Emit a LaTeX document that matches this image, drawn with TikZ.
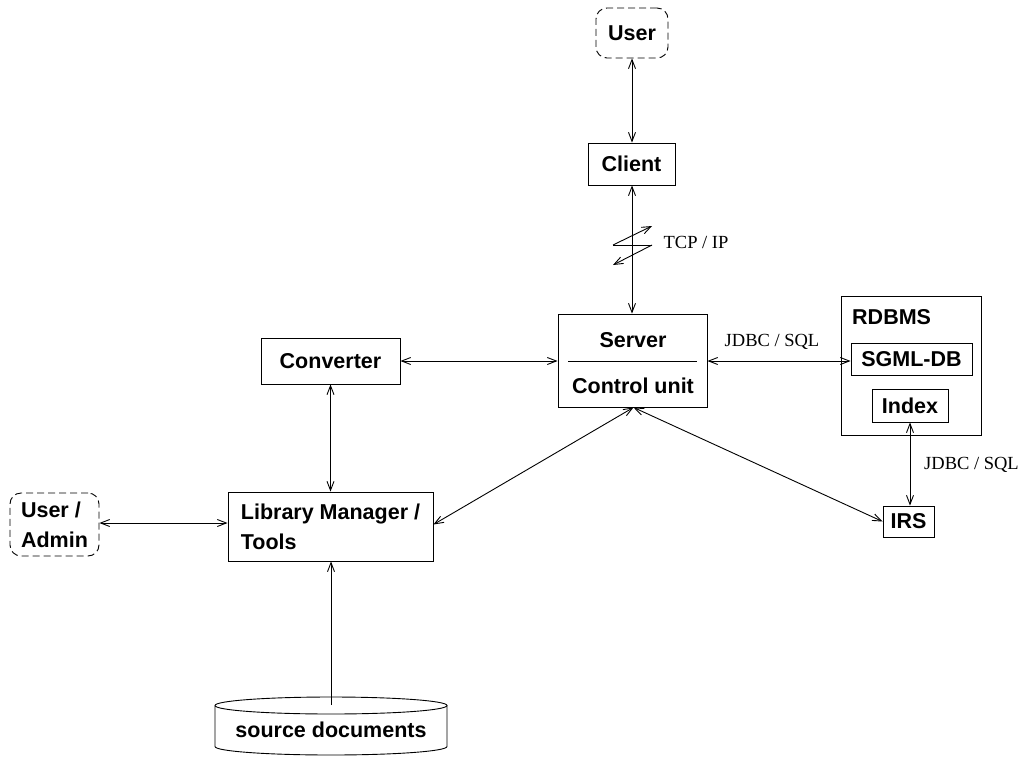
\documentclass[tikz,border=0pt]{standalone}
\usepackage{fontspec}
\setmainfont{Liberation Serif}
\newfontfamily\boxfont{Liberation Sans}[BoldFont={Liberation Sans Bold}]
\usetikzlibrary{arrows.meta}
\tikzset{
  bx/.style={draw, line width=0.9pt, rectangle, inner sep=0pt, font=\boxfont\bfseries\fontsize{21.5}{30}\selectfont, align=left},
  dbox/.style={bx, dashed, dash pattern=on 7pt off 4pt, rounded corners=11pt},
  lbl/.style={inner sep=0pt, font=\fontsize{18.5}{22}\selectfont},
  con/.style={line width=0.9pt, {Straight Barb[length=9pt,width=7pt]}-{Straight Barb[length=9pt,width=7pt]}},
  one/.style={line width=0.9pt, -{Straight Barb[length=9pt,width=7pt]}},
}
\begin{document}
\begin{tikzpicture}[x=1pt,y=-1pt]
\useasboundingbox (0,0) rectangle (1021,756);
% nodes
\node[dbox, minimum width=72pt, minimum height=50pt] (user) at (632,33) {User};
\node[bx, minimum width=87pt, minimum height=42pt] (client) at (631.5,164) {Client};
\node[bx, minimum width=149pt, minimum height=93pt] (server) at (632.5,360.5) {};
\node[inner sep=0pt, font=\boxfont\bfseries\fontsize{21.5}{30}\selectfont] (servert) at (633,340) {Server};
\node[inner sep=0pt, font=\boxfont\bfseries\fontsize{21.5}{30}\selectfont] (ctrlt) at (633,386) {Control unit};
\coordinate (sepl) at (568,361);
\coordinate (sepr) at (697,361);
\draw[line width=0.9pt] (sepl) -- (sepr);
\node[bx, minimum width=139pt, minimum height=46pt] (conv) at (330.5,361) {Converter};
\node[bx, minimum width=140pt, minimum height=139pt] (rdbms) at (911,365.5) {};
\node[inner sep=0pt, anchor=west, font=\boxfont\bfseries\fontsize{21.5}{30}\selectfont] (rdbmst) at (852,317) {RDBMS};
\node[bx, minimum width=121pt, minimum height=32pt] (sgml) at (911.5,359) {SGML-DB};
\node[bx, minimum width=76pt, minimum height=33pt] (index) at (910,405.5) {Index};
\node[bx, minimum width=51pt, minimum height=31pt] (irs) at (908.5,521.5) {IRS};
\node[bx, minimum width=205pt, minimum height=69pt, align=left] (lib) at (330.5,526.5) {Library Manager /\\[0pt]Tools};
\node[dbox, minimum width=89pt, minimum height=63pt, align=left] (ua) at (54.5,524.5) {User /\\[0pt]Admin};
% cylinder
\draw[line width=0.9pt] (215,705.5) arc[start angle=180, end angle=360, x radius=116pt, y radius=8.5pt]
  arc[start angle=0, end angle=180, x radius=116pt, y radius=8.5pt];
\draw[line width=0.9pt] (215,705.5) -- (215,746.5) arc[start angle=180, end angle=360, x radius=116pt, y radius=8.5pt] -- (447,705.5);
\node[inner sep=0pt, font=\boxfont\bfseries\fontsize{21.5}{30}\selectfont] (src) at (331,730) {source documents};
\coordinate (srctop) at (331,705);
% connectors
\draw[con] (user.south) -- (user.south |- client.north);
\draw[con] (client.south -| user.south) -- (user.south |- server.north);
\coordinate (zz) at (632,245);
\draw[line width=0.9pt] ([xshift=-19pt]zz) -- ([xshift=20pt]zz);
\draw[one] ([xshift=-19pt]zz) -- ([xshift=20pt,yshift=19pt]zz);
\draw[one] ([xshift=20pt]zz) -- ([xshift=-19pt,yshift=-20pt]zz);
\node[lbl] (tcp) at (696,242) {TCP / IP};
\draw[con] (conv.east) -- (conv.east -| server.west);
\draw[con] ([yshift=-0.5pt]server.east) -- ([yshift=-0.5pt]server.east -| sgml.west);
\node[lbl] (jdbc1) at (772,342) {JDBC / SQL};
\draw[con] (index.south) -- (index.south |- irs.north);
\node[lbl] (jdbc2) at (971.5,465) {JDBC / SQL};
\draw[con] (conv.south) -- (conv.south |- lib.north);
\draw[con] ([yshift=1.5pt]ua.east) -- ([yshift=1.5pt]ua.east -| lib.west);
\draw[con] ([xshift=1pt]server.south) -- ([yshift=2pt]lib.east);
\draw[con] ([xshift=1pt]server.south) -- (irs.west);
\draw[one] (srctop) -- (srctop |- lib.south);
\end{tikzpicture}
\end{document}
